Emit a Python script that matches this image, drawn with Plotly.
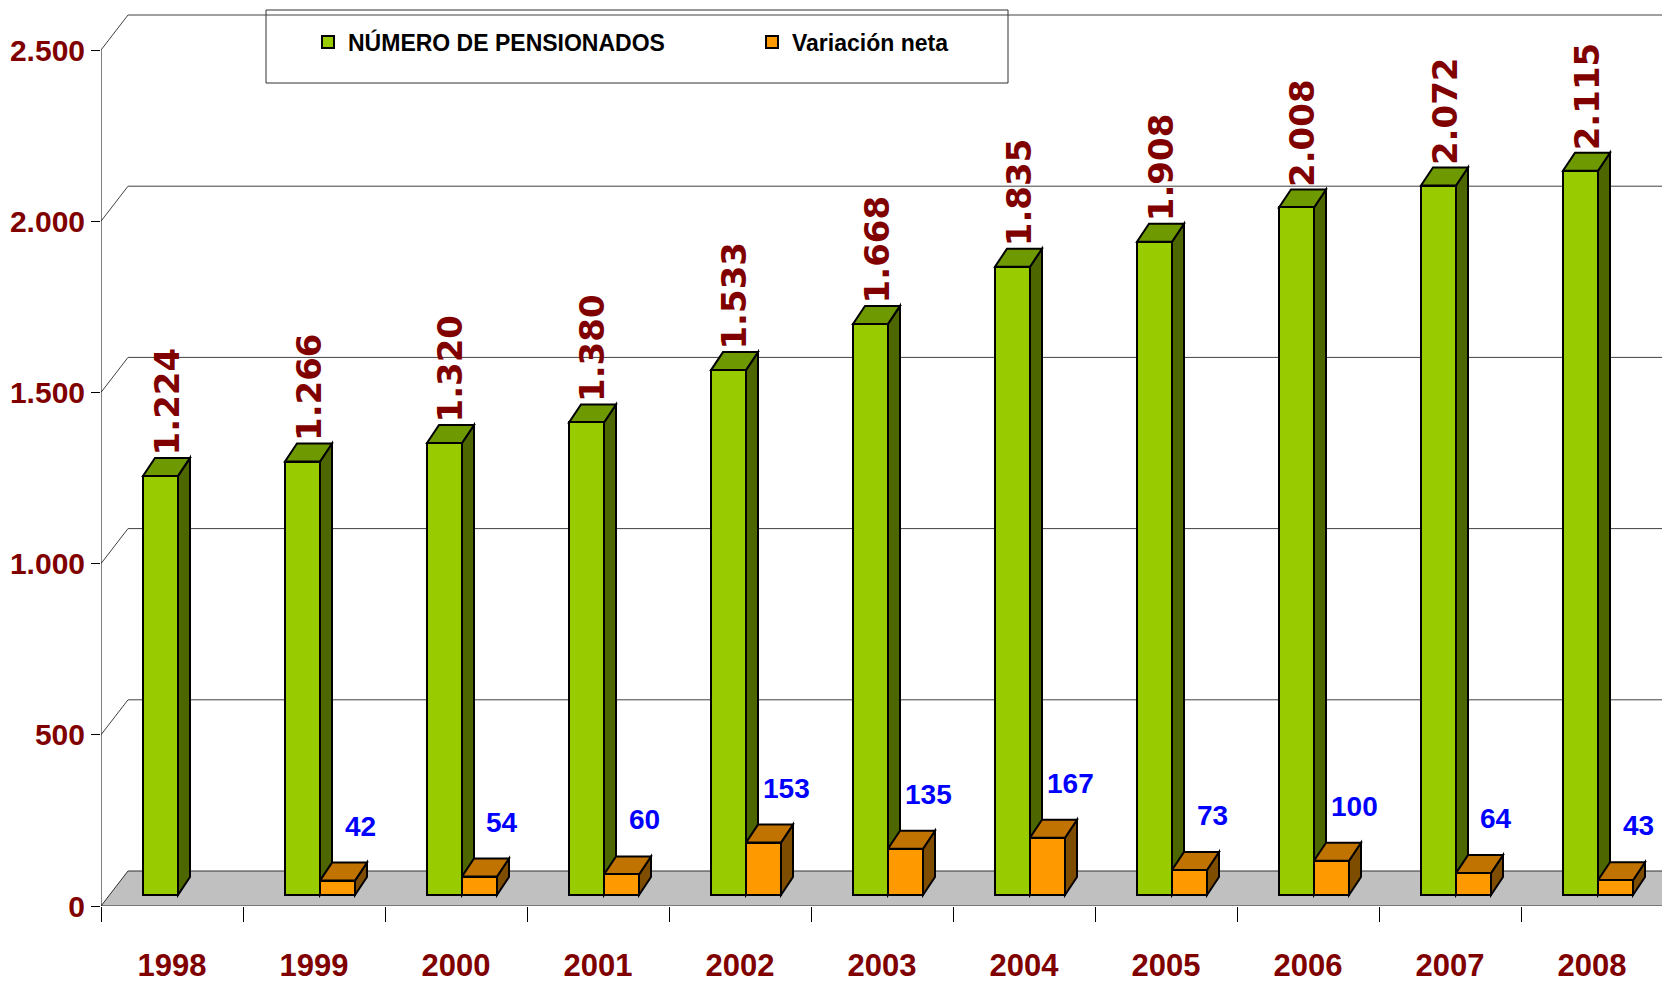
import plotly.graph_objects as go

# ---------------- data ----------------
years = ["1998", "1999", "2000", "2001", "2002", "2003", "2004", "2005", "2006", "2007", "2008"]
pensionados = [1224, 1266, 1320, 1380, 1533, 1668, 1835, 1908, 2008, 2072, 2115]
variacion = [None, 42, 54, 60, 153, 135, 167, 73, 100, 64, 43]
y_ticks = [0, 500, 1000, 1500, 2000, 2500]
series_names = ["NÚMERO DE PENSIONADOS", "Variación neta"]

# ---------------- styling / pseudo-3D geometry ----------------
W, H = 1670, 987
PAGE_OFF = 8                      # default body margin of the html page
ML = 101 - PAGE_OFF
MT = 0
MB = H - (906 - PAGE_OFF)
MR = PAGE_OFF
CAT_PX = 142.0            # px per category
VAL_PX = 0.3424           # px per value unit
PX_X = 1 / CAT_PX
PX_Y = 1 / VAL_PX
WALL_DX, WALL_DY = 27 * PX_X, 35 * PX_Y
BOX_DX, BOX_DY = 12 * PX_X, 18 * PX_Y
BASE = 11 * PX_Y
BAR_W = 35 * PX_X
G_LEFT = -0.5 + 42 * PX_X
O_LEFT = G_LEFT + BAR_W
X0 = -0.5
PLOT_W = W - ML - MR
PLOT_H = H - MT - MB
X_MAX = X0 + PLOT_W * PX_X
X_END = X0 + len(years)
Y_MAX = PLOT_H * PX_Y

FONT = "Liberation Sans, Arial, sans-serif"
WIDE = "DejaVu Sans, Verdana, sans-serif"
DARKRED = "#800000"
G_FRONT, G_TOP, G_SIDE = "#99CC00", "#6E9900", "#4D6600"
O_FRONT, O_TOP, O_SIDE = "#FF9900", "#C07300", "#7F4D00"


def poly(pts):
    return "M " + " L ".join(f"{x},{y}" for x, y in pts) + " Z"


def page2paper_x(px):
    return (px - PAGE_OFF - ML) / PLOT_W


def page2paper_y(py):
    return (H - MB - (py - PAGE_OFF)) / PLOT_H


shapes = []
# floor
shapes.append(dict(type="path", xref="x", yref="y", layer="below",
                   path=poly([(X0, 0), (X_END, 0), (X_END + WALL_DX, WALL_DY), (X0 + WALL_DX, WALL_DY)]),
                   fillcolor="#C0C0C0", line=dict(color="#303030", width=1)))
# back wall / side wall gridlines
for v in y_ticks[1:]:
    shapes.append(dict(type="line", xref="x", yref="y", layer="below",
                       x0=X0, y0=v, x1=X0 + WALL_DX, y1=v + WALL_DY,
                       line=dict(color="#404040", width=1)))
    shapes.append(dict(type="line", xref="x", yref="y", layer="below",
                       x0=X0 + WALL_DX, y0=v + WALL_DY, x1=X_MAX + 1, y1=v + WALL_DY,
                       line=dict(color="#404040", width=1)))

# legend frame (covers the back-wall line)
LEG_L, LEG_R, LEG_T, LEG_B = 266, 1008, 10, 83
shapes.append(dict(type="rect", xref="paper", yref="paper", layer="below",
                   x0=page2paper_x(LEG_L), x1=page2paper_x(LEG_R),
                   y0=page2paper_y(LEG_B), y1=page2paper_y(LEG_T),
                   fillcolor="white", line=dict(color="#303030", width=1)))


# 3D faces (side + top) of boxes
def box_faces(left, top, topc, side):
    right = left + BAR_W
    shapes.append(dict(type="path", xref="x", yref="y", layer="below",
                       path=poly([(right, BASE), (right, top), (right + BOX_DX, top + BOX_DY),
                                  (right + BOX_DX, BASE + BOX_DY)]),
                       fillcolor=side, line=dict(color="black", width=2)))
    shapes.append(dict(type="path", xref="x", yref="y", layer="below",
                       path=poly([(left, top), (right, top), (right + BOX_DX, top + BOX_DY),
                                  (left + BOX_DX, top + BOX_DY)]),
                       fillcolor=topc, line=dict(color="black", width=2)))


for i, v in enumerate(pensionados):
    box_faces(i + G_LEFT, BASE + v, G_TOP, G_SIDE)
for i, v in enumerate(variacion):
    if v is not None:
        box_faces(i + O_LEFT, BASE + v, O_TOP, O_SIDE)

# y axis line (front)
shapes.append(dict(type="line", xref="x", yref="y", layer="above",
                   x0=X0, y0=0, x1=X0, y1=y_ticks[-1], line=dict(color="black", width=1)))

fig = go.Figure()
fig.add_trace(go.Bar(
    name=series_names[0], x=list(range(len(years))), y=pensionados,
    base=[BASE] * len(years), offset=G_LEFT, width=BAR_W,
    marker=dict(color=G_FRONT, line=dict(color="black", width=2)),
    hoverinfo="skip"))
ox = [i for i, v in enumerate(variacion) if v is not None]
oy = [v for v in variacion if v is not None]
fig.add_trace(go.Bar(
    name=series_names[1], x=ox, y=oy,
    base=[BASE] * len(ox), offset=O_LEFT, width=BAR_W,
    marker=dict(color=O_FRONT, line=dict(color="black", width=2)),
    hoverinfo="skip"))

annotations = []
for i, v in enumerate(pensionados):
    annotations.append(dict(
        x=i + G_LEFT + BAR_W / 2 + BOX_DX / 2, y=BASE + v + BOX_DY,
        xref="x", yref="y", text=f"{v:,}".replace(",", "."), textangle=-90,
        showarrow=False, xanchor="center", yanchor="bottom", yshift=0,
        font=dict(family=WIDE, size=34, color=DARKRED, weight="bold")))
for i, v in enumerate(variacion):
    if v is None:
        continue
    annotations.append(dict(
        x=i + O_LEFT + BAR_W + BOX_DX - 7 * PX_X, y=BASE + v + BOX_DY,
        xref="x", yref="y", text=str(v),
        showarrow=False, xanchor="center", yanchor="bottom", yshift=19,
        font=dict(family=FONT, size=28, color="#0000FF", weight="bold")))

fig.update_layout(
    width=W, height=H, autosize=False,
    margin=dict(l=ML, r=MR, t=MT, b=MB, pad=0, autoexpand=False),
    paper_bgcolor="white", plot_bgcolor="white",
    separators=",.",
    barmode="overlay",
    bargap=0,
    shapes=shapes,
    annotations=annotations,
    showlegend=True,
    legend=dict(orientation="h", x=page2paper_x(308), xanchor="left",
                y=page2paper_y(42), yanchor="middle",
                bgcolor="rgba(0,0,0,0)", borderwidth=0,
                entrywidth=399, entrywidthmode="pixels",
                font=dict(family=FONT, size=23, color="black", weight="bold")),
    xaxis=dict(range=[X0, X_MAX], tickmode="array", tickvals=list(range(len(years))),
               ticktext=years, ticks="", showgrid=False, zeroline=False, showline=False,
               automargin=False, ticklabelstandoff=38,
               tickfont=dict(family=FONT, size=31, color=DARKRED, weight="bold"),
               minor=dict(tickmode="array", tickvals=[X0 + k for k in range(len(years) + 1)],
                          ticks="outside", ticklen=15, tickwidth=1, tickcolor="black",
                          showgrid=False)),
    yaxis=dict(range=[0, Y_MAX], tickmode="array", tickvals=y_ticks, tickformat=",d",
               ticks="outside", ticklen=9, tickwidth=1, tickcolor="black",
               showgrid=False, zeroline=False, showline=False,
               automargin=False, ticklabelstandoff=0,
               tickfont=dict(family=FONT, size=30, color=DARKRED, weight="bold")),
)

fig.write_html("out.html")
